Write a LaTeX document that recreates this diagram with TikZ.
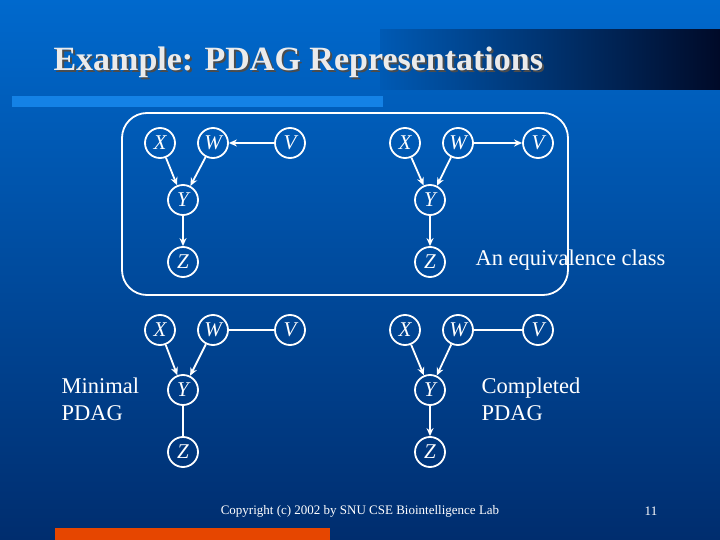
\documentclass[tikz,border=0pt]{standalone}
\usepackage{fontspec}
\setmainfont{Liberation Serif}
\usetikzlibrary{arrows.meta}
\definecolor{bgtop}{RGB}{0,105,205}
\definecolor{bgbot}{RGB}{0,45,110}
\definecolor{tl}{RGB}{0,90,180}
\definecolor{tr}{RGB}{0,10,40}
\definecolor{barblue}{RGB}{20,130,230}
\definecolor{barorange}{RGB}{230,70,0}
\begin{document}
\begin{tikzpicture}[x=1pt,y=-1pt,
 vn/.style={circle,draw=white,line width=1.8pt,inner sep=0pt,minimum size=30pt,text=white,font=\fontsize{21}{21}\selectfont\itshape},
 ar/.style={draw=white,line width=1.8pt,-{Stealth[length=8pt,width=7pt]}},
 ln/.style={draw=white,line width=1.8pt},
 lbl/.style={text=white,font=\fontsize{22.5}{27}\selectfont,align=left}]
\useasboundingbox (0,0) rectangle (720,540);
\shade[top color=bgtop,bottom color=bgbot] (0,0) rectangle (720,540);
\shade[left color=tl,right color=tr] (380,30) rectangle (720,90);
\fill[barblue] (12,96) rectangle (383,107);
\fill[barorange] (55,528) rectangle (330,540);
\node[anchor=west,text=black!70,font=\fontsize{34}{34}\selectfont\bfseries] at (52,64) {Example: PDAG Representations};
\node[anchor=west,text=white!92!black,font=\fontsize{34}{34}\selectfont\bfseries] (title) at (50,62) {Example: PDAG Representations};
\draw[white,line width=1.8pt,rounded corners=25pt] (122,113) rectangle (568,295);
% graph 1
\node[vn] (x1) at (160,143) {X};
\node[vn] (w1) at (213,143) {W};
\node[vn] (v1) at (290,143) {V};
\node[vn] (y1) at (183,200) {Y};
\node[vn] (z1) at (183,262) {Z};
\draw[ar] (x1)--(y1); \draw[ar] (w1)--(y1); \draw[ar] (v1)--(w1); \draw[ar] (y1)--(z1);
% graph 2
\node[vn] (x2) at (405,143) {X};
\node[vn] (w2) at (458,143) {W};
\node[vn] (v2) at (538,143) {V};
\node[vn] (y2) at (430,200) {Y};
\node[vn] (z2) at (430,262) {Z};
\draw[ar] (x2)--(y2); \draw[ar] (w2)--(y2); \draw[ar] (w2)--(v2); \draw[ar] (y2)--(z2);
% graph 3
\node[vn] (x3) at (160,330) {X};
\node[vn] (w3) at (213,330) {W};
\node[vn] (v3) at (290,330) {V};
\node[vn] (y3) at (183,390) {Y};
\node[vn] (z3) at (183,452) {Z};
\draw[ar] (x3)--(y3); \draw[ar] (w3)--(y3); \draw[ln] (v3)--(w3); \draw[ln] (y3)--(z3);
% graph 4
\node[vn] (x4) at (405,330) {X};
\node[vn] (w4) at (458,330) {W};
\node[vn] (v4) at (538,330) {V};
\node[vn] (y4) at (430,390) {Y};
\node[vn] (z4) at (430,452) {Z};
\draw[ar] (x4)--(y4); \draw[ar] (w4)--(y4); \draw[ln] (w4)--(v4); \draw[ar] (y4)--(z4);
\node[lbl,anchor=west] (eq) at (472,260) {An equivalence class};
\node[lbl,anchor=west] (mp) at (58,399) {Minimal\\PDAG};
\node[lbl,anchor=west] (cp) at (478,399) {Completed\\PDAG};
\node[text=white,font=\fontsize{13}{13}\selectfont] (cr) at (360,511) {Copyright (c) 2002 by SNU CSE Biointelligence Lab};
\node[text=white,font=\fontsize{13}{13}\selectfont] (pg) at (651,511) {11};
\end{tikzpicture}
\end{document}
